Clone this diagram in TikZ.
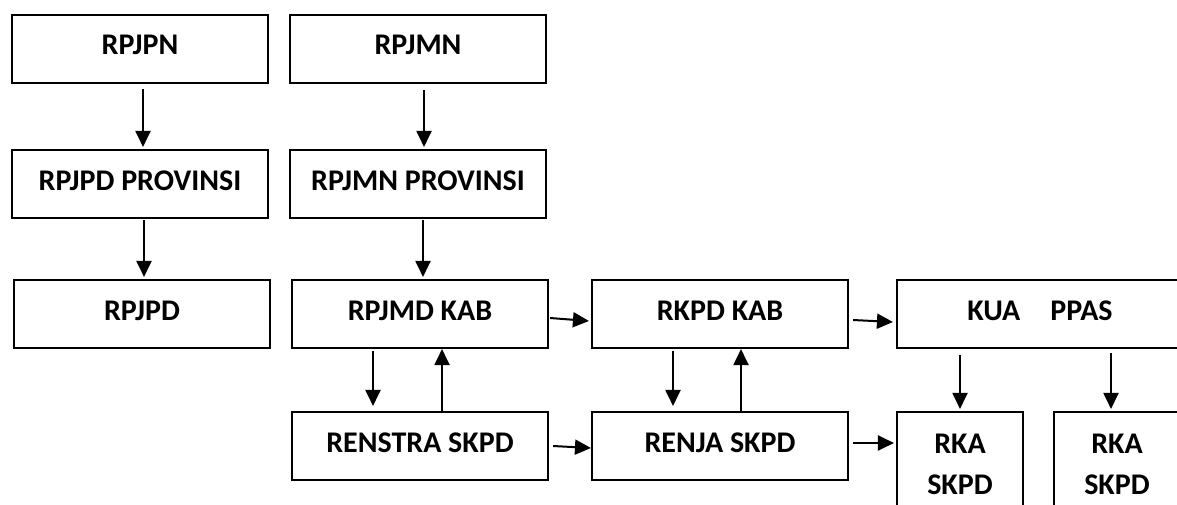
\documentclass[tikz,border=0pt]{standalone}
\usepackage{fontspec}
\setmainfont{Carlito}
\usetikzlibrary{arrows.meta}
\begin{document}
\begin{tikzpicture}[x=1pt,y=-1pt,
    box/.style={draw,line width=2.1pt,minimum width=256pt,minimum height=68pt,
      inner sep=0pt,text height=19pt,text depth=7pt,
      font=\fontsize{30}{41}\selectfont\bfseries},
    rka/.style={box,minimum width=126pt,minimum height=104pt,align=center,
      text height=,text depth=},
    >={Triangle[length=16pt,width=15pt]}]
  \clip (0,0) rectangle (1177,505);
  \draw
    (140,49) node[box] (rpjpn){RPJPN}
    (418,49) node[box] (rpjmn){RPJMN}
    (140,184) node[box] (rpjpdprov){RPJPD PROVINSI}
    (418,184) node[box] (rpjmnprov){RPJMN PROVINSI}
    (142,314) node[box] (rpjpd){RPJPD}
    (420,314) node[box] (rpjmd){RPJMD KAB}
    (720,314) node[box] (rkpd){RKPD KAB}
    (1040,314) node[box,minimum width=286pt] (kua){KUA\hspace{30pt}PPAS}
    (420,446) node[box] (renstra){RENSTRA SKPD}
    (720,446) node[box] (renja){RENJA SKPD}
    (960,464) node[rka] (rka1){RKA\\SKPD}
    (1117,464) node[rka] (rka2){RKA\\SKPD};
  \begin{scope}[->,line width=2pt]
    \draw ([xshift=3pt,yshift=-5pt]rpjpn.south) to ([xshift=3pt,yshift=2pt]rpjpdprov.north);
    \draw ([xshift=6pt,yshift=-6pt]rpjmn.south) to ([xshift=6pt,yshift=2pt]rpjmnprov.north);
    \draw ([xshift=4pt,yshift=-1pt]rpjpdprov.south) to ([xshift=2pt,yshift=2pt]rpjpd.north);
    \draw ([xshift=5pt,yshift=-1pt]rpjmnprov.south) to ([xshift=3pt,yshift=2pt]rpjmd.north);
    \draw ([xshift=-47pt,yshift=-2pt]rpjmd.south) to ([xshift=-47pt,yshift=5pt]renstra.north);
    \draw ([xshift=22pt]renstra.north) to ([xshift=22pt]rpjmd.south);
    \draw ([xshift=-47pt,yshift=-2pt]rkpd.south) to ([xshift=-47pt,yshift=5pt]renja.north);
    \draw ([xshift=21pt]renja.north) to ([xshift=21pt]rkpd.south);
    \draw ([xshift=1pt,yshift=-4pt]rpjmd.east) to ([xshift=-2pt,yshift=-7pt]rkpd.west);
    \draw ([xshift=4pt]renstra.east) to ([yshift=-2pt]renja.west);
    \draw ([xshift=4pt,yshift=-6pt]rkpd.east) to ([xshift=-3pt,yshift=-8pt]kua.west);
    \draw ([xshift=4pt,yshift=3pt]renja.east) to ([xshift=-2pt,yshift=21pt]rka1.west);
    \draw ([xshift=-80pt,yshift=-6pt]kua.south) to ([yshift=2pt]rka1.north);
    \draw ([xshift=71pt,yshift=-4pt]kua.south) to ([xshift=-6pt,yshift=2pt]rka2.north);
  \end{scope}
\end{tikzpicture}
\end{document}
